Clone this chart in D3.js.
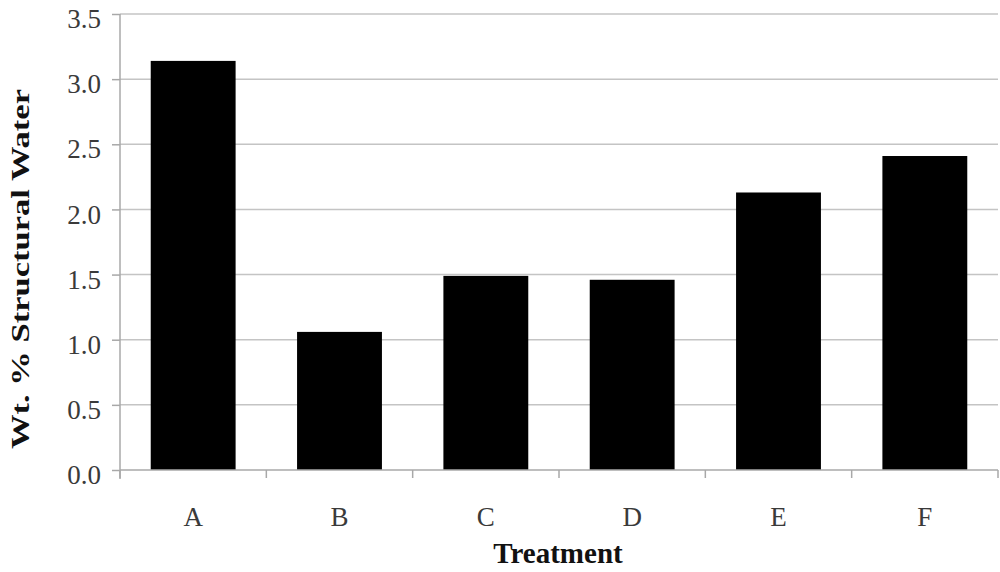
<!DOCTYPE html>
<html>
<head>
<meta charset="utf-8">
<script src="https://cdn.jsdelivr.net/npm/d3@7"></script>
<style>
  body { margin: 0; background: #fff; }
  text { font-family: "Liberation Serif", "Times New Roman", serif; }
</style>
</head>
<body>
<svg id="chart" width="1000" height="572"></svg>
<script>
'use strict';

// data
const treatments = ["A", "B", "C", "D", "E", "F"];
const water = [3.14, 1.06, 1.49, 1.46, 2.13, 2.41];
const yTicks = [0, 0.5, 1.0, 1.5, 2.0, 2.5, 3.0, 3.5];

let margin = {top: 14, right: 2, bottom: 102, left: 120};
let width = 1000 - margin.left - margin.right;
let height = 572 - margin.top - margin.bottom;

let svg = d3.select("#chart")
  .append("g")
    .attr("transform", "translate(" + margin.left + "," + margin.top + ")");

let x = d3.scaleBand()
  .domain(treatments)
  .range([0, width])
  .paddingInner(0.42)
  .paddingOuter(0.21);

let y = d3.scaleLinear()
  .domain([0, 3.5])
  .range([height, 0]);

// gridlines
svg.selectAll(".grid")
  .data(yTicks.filter(function(d) { return d > 0; }))
  .enter().append("line")
    .attr("class", "grid")
    .attr("x1", 0)
    .attr("x2", width)
    .attr("y1", function(d) { return y(d); })
    .attr("y2", function(d) { return y(d); })
    .attr("stroke", "#c4c4c4")
    .attr("stroke-width", 1.5);

// bars
svg.selectAll(".bar")
  .data(water)
  .enter().append("rect")
    .attr("class", "bar")
    .attr("x", function(d, i) { return x(treatments[i]); })
    .attr("width", x.bandwidth())
    .attr("y", function(d) { return y(d); })
    .attr("height", function(d) { return height - y(d); })
    .attr("fill", "#000");

// y axis
let yAxis = svg.append("g")
  .call(d3.axisLeft(y).tickValues(yTicks).tickFormat(d3.format(".1f")).tickSize(8).tickPadding(11));

// x axis: ticks at the category boundaries
let step = x.step();
let bounds = d3.range(treatments.length + 1).map(function(i) { return i * step; });
let xAxis = svg.append("g")
  .attr("transform", "translate(0," + height + ")");
xAxis.append("line")
  .attr("x1", 0).attr("x2", width)
  .attr("stroke", "#a8a8a8").attr("stroke-width", 1.5);
xAxis.selectAll(".xtick")
  .data(bounds)
  .enter().append("line")
    .attr("x1", function(d) { return d; })
    .attr("x2", function(d) { return d; })
    .attr("y1", 0).attr("y2", 8)
    .attr("stroke", "#a8a8a8").attr("stroke-width", 1.5);
xAxis.selectAll(".xlabel")
  .data(treatments)
  .enter().append("text")
    .attr("x", function(d) { return x(d) + x.bandwidth() / 2; })
    .attr("y", 56)
    .attr("text-anchor", "middle")
    .style("font-size", "27px")
    .attr("fill", "#3a3a3a")
    .text(function(d) { return d; });

yAxis.select(".domain").attr("stroke", "#a8a8a8").attr("stroke-width", 1.5)
  .attr("d", "M0," + (height + 9) + "V0");
yAxis.selectAll(".tick line").attr("stroke", "#a8a8a8").attr("stroke-width", 1.5);
yAxis.selectAll(".tick text")
  .attr("y", 5)
  .style("font-size", "27px")
  .style("font-family", "'Liberation Serif', serif")
  .attr("fill", "#3a3a3a");

// axis titles
svg.append("text")
  .attr("transform", "translate(" + (-91) + "," + (height / 2 + 27) + ")rotate(-90)")
  .attr("text-anchor", "middle")
  .attr("textLength", 360)
  .attr("lengthAdjust", "spacingAndGlyphs")
  .style("font-size", "26px")
  .attr("font-weight", "bold")
  .attr("fill", "#111")
  .text("Wt. % Structural Water");

svg.append("text")
  .attr("x", 438)
  .attr("y", height + 93)
  .attr("text-anchor", "middle")
  .style("font-size", "29px")
  .attr("font-weight", "bold")
  .attr("fill", "#111")
  .text("Treatment");
</script>
</body>
</html>
